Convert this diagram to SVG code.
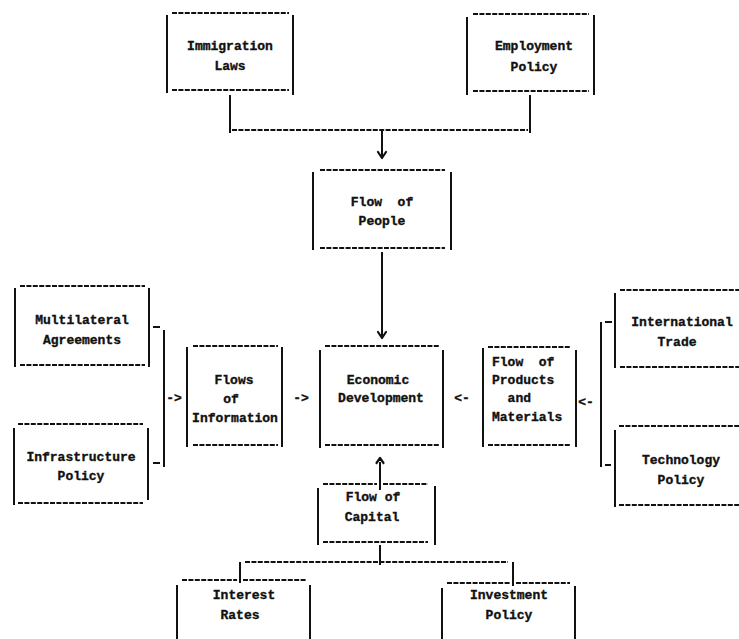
<svg xmlns="http://www.w3.org/2000/svg" width="739" height="639" viewBox="0 0 739 639">
<style>
.h{stroke:#111;stroke-width:2;stroke-dasharray:5 1.4;fill:none}
.v{stroke:#111;stroke-width:2;fill:none}
.ah{stroke:#111;stroke-width:2.2;fill:none;stroke-linecap:round;stroke-linejoin:round}
text{font-family:"Liberation Mono","DejaVu Sans Mono",monospace;font-weight:bold;font-size:13px;fill:#111;stroke:#111;stroke-width:0.35;text-anchor:middle}
.l{text-anchor:start}
</style>
<rect width="739" height="639" fill="#fff"/>
<g id="immigration">
<path class="h" d="M172 13H289M172 90H289"/><path class="v" d="M167 15V93M293 15V95"/>
<text x="230" y="50">Immigration</text><text x="230" y="70">Laws</text>
</g>
<g id="employment">
<path class="h" d="M473 14H589M473 91H589"/><path class="v" d="M467 17V95M594 15V95"/>
<text x="534" y="50">Employment</text><text x="534" y="71">Policy</text>
</g>
<g id="people">
<path class="h" d="M320 170H445M320 248H445"/><path class="v" d="M313 172V250M451 172V250"/>
<text x="382" y="206" xml:space="preserve">Flow  of</text><text x="382" y="225">People</text>
</g>
<g id="multilateral">
<path class="h" d="M20 286H145M20 365H145"/><path class="v" d="M15 288V367M149 288V367"/>
<text x="82" y="324">Multilateral</text><text x="82" y="344">Agreements</text>
</g>
<g id="infrastructure">
<path class="h" d="M18 424H143M18 503H143"/><path class="v" d="M14 428V505M148 428V500"/>
<text x="81" y="461">Infrastructure</text><text x="81" y="480">Policy</text>
</g>
<g id="information">
<path class="h" d="M193 346H278M193 445H278"/><path class="v" d="M187 347V447M282 347V447"/>
<text x="234" y="384">Flows</text><text x="231" y="403">of</text><text x="235" y="422">Information</text>
</g>
<g id="economic">
<path class="h" d="M325 346H440M325 445H440"/><path class="v" d="M320 350V448M443 350V448"/>
<text x="378" y="384">Economic</text><text x="381" y="402">Development</text>
</g>
<g id="products">
<path class="h" d="M488 347H571M488 445H571"/><path class="v" d="M483 348V447M576 350V447"/>
<text class="l" x="492" y="366" xml:space="preserve">Flow  of</text><text class="l" x="492" y="384">Products</text>
<text class="l" x="492" y="402" xml:space="preserve">  and</text><text class="l" x="492" y="421">Materials</text>
</g>
<g id="trade">
<path class="h" d="M620 290H739M620 367H739"/><path class="v" d="M615 293V368"/>
<text x="682" y="326">International</text><text x="677" y="346">Trade</text>
</g>
<g id="technology">
<path class="h" d="M619 426H739M619 505H739"/><path class="v" d="M615 430V507"/>
<text x="681" y="464">Technology</text><text x="681" y="484">Policy</text>
</g>
<g id="capital">
<path class="h" d="M323 484H377M383 484H428M323 542H428"/><path class="v" d="M318 488V545M435 486V545"/>
<text x="373" y="501">Flow of</text><text x="372" y="521">Capital</text>
</g>
<g id="interest">
<path class="h" d="M182 580H237M243 580H307"/><path class="v" d="M177 585V639M310 585V639"/>
<text x="244" y="599">Interest</text><text x="240" y="619">Rates</text>
</g>
<g id="investment">
<path class="h" d="M447 583H510M516 583H570"/><path class="v" d="M442 588V639M575 586V639"/>
<text x="509" y="599">Investment</text><text x="509" y="619">Policy</text>
</g>
<g id="connectors">
<path class="v" d="M230 95V133M530 95V133"/>
<path class="h" d="M232 130H528"/>
<path class="v" d="M382 130V157"/><path class="ah" d="M378 152L382 158L386 152"/>
<path class="v" d="M382 252V337"/><path class="ah" d="M378 332L382 338L386 332"/>
<path class="v" d="M153 327H160M153 463H160M164 330V467"/>
<text x="174" y="402">-&gt;</text>
<text x="301" y="402">-&gt;</text>
<text x="462" y="402">&lt;-</text>
<text x="586" y="406">&lt;-</text>
<path class="v" d="M605 322H612M605 465H611M601 322V467"/>
<path class="v" d="M380 462V490"/><path class="ah" d="M376.5 463L380 458L383.5 463"/>
<path class="v" d="M380 545V565"/>
<path class="h" d="M245 562H508"/>
<path class="v" d="M240 562V583M513 562V586"/>
</g>
</svg>
